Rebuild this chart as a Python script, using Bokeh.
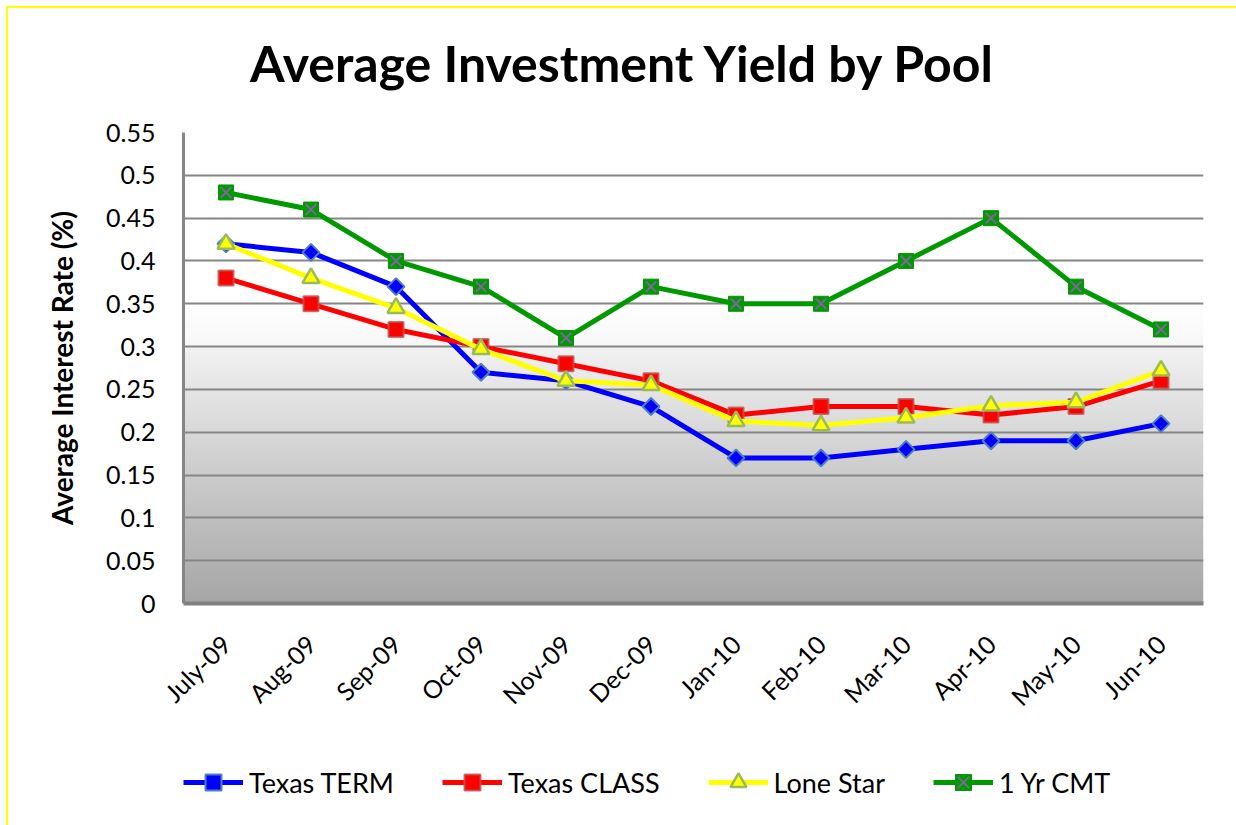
import numpy as np
from math import pi
from bokeh.plotting import figure
from bokeh.layouts import column
from bokeh.models import (Range1d, FixedTicker, CustomJSTickFormatter, Legend, LegendItem, Div)
from bokeh.embed import file_html
from bokeh.resources import INLINE

title_text = "Average Investment Yield by Pool"
months = ["July-09", "Aug-09", "Sep-09", "Oct-09", "Nov-09", "Dec-09",
          "Jan-10", "Feb-10", "Mar-10", "Apr-10", "May-10", "Jun-10"]
texas_term = [0.42, 0.41, 0.37, 0.27, 0.26, 0.23, 0.17, 0.17, 0.18, 0.19, 0.19, 0.21]
texas_class = [0.38, 0.35, 0.32, 0.30, 0.28, 0.26, 0.22, 0.23, 0.23, 0.22, 0.23, 0.26]
lone_star = [0.42, 0.38, 0.345, 0.297, 0.26, 0.255, 0.213, 0.208, 0.217, 0.231, 0.235, 0.272]
cmt_1yr = [0.48, 0.46, 0.40, 0.37, 0.31, 0.37, 0.35, 0.35, 0.40, 0.45, 0.37, 0.32]
y_ticks = [0, 0.05, 0.1, 0.15, 0.2, 0.25, 0.3, 0.35, 0.4, 0.45, 0.5, 0.55]

FONT = "Lato"
W = 1228
x = list(range(len(months)))
y_max = y_ticks[-1]

# ---- title strip
title_div = Div(
    text=('<div style="padding:30px 0 0 242px;margin:0;font-family:Lato;'
          'font-weight:bold;font-size:50px;line-height:50px;white-space:nowrap;'
          'color:#000000;">' + title_text + '</div>'),
    width=W, height=100, margin=0)

# ---- main chart
p = figure(width=W, height=620, output_backend="svg", toolbar_location=None,
           x_range=Range1d(-0.5, len(months) - 0.5), y_range=Range1d(0, y_max),
           min_border_left=175, min_border_right=33, min_border_top=24,
           min_border_bottom=125)
p.outline_line_color = None
p.background_fill_color = "white"
p.border_fill_color = "white"

n = 550
ys = (np.arange(n) + 0.5) / n * y_max
vals = np.where(ys >= 0.35, 255.0,
                np.where(ys >= 0.30, 247 + (255 - 247) * (ys - 0.30) / 0.05,
                         166 + (242 - 166) * ys / 0.30))
v = vals.astype(np.uint32)
img = (255 << 24) | (v << 16) | (v << 8) | v
img = img.reshape(n, 1).astype(np.uint32)
p.image_rgba(image=[img], x=-0.5, y=0, dw=len(months), dh=y_max, level="image")

p.xgrid.visible = False
p.ygrid.ticker = FixedTicker(ticks=y_ticks)
p.ygrid.grid_line_color = "#868686"
p.ygrid.grid_line_width = 2

p.yaxis.ticker = FixedTicker(ticks=y_ticks)
p.yaxis.formatter = CustomJSTickFormatter(
    code="return tick.toFixed(2).replace(/0+$/, '').replace(/\\.$/, '');")
p.yaxis.axis_label = "Average Interest Rate (%)"
p.yaxis.axis_label_text_font = FONT
p.yaxis.axis_label_text_font_size = "28px"
p.yaxis.axis_label_text_font_style = "bold"
p.yaxis.axis_label_text_color = "black"
p.yaxis.axis_label_standoff = 24
p.yaxis.major_label_standoff = 22
p.yaxis.axis_line_color = "#868686"
p.yaxis.axis_line_width = 3

p.xaxis.ticker = FixedTicker(ticks=x)
p.xaxis.major_label_overrides = {i: m for i, m in enumerate(months)}
p.xaxis.major_label_orientation = pi / 4
p.xaxis.major_label_standoff = 30
p.xaxis.axis_line_color = "#808080"
p.xaxis.axis_line_width = 4

for ax in (p.xaxis[0], p.yaxis[0]):
    ax.major_tick_line_color = None
    ax.minor_tick_line_color = None
    ax.major_label_text_font = FONT
    ax.major_label_text_color = "black"
p.yaxis.major_label_text_font_size = "25px"
p.xaxis.major_label_text_font_size = "25px"

series = [
    ("Texas TERM", texas_term, "#0000ff",
     dict(marker="square", angle=pi / 4, size=12, fill_color="#0000ff",
          line_color="#4f81bd", line_width=2)),
    ("Texas CLASS", texas_class, "#ff0000",
     dict(marker="square", size=15, fill_color="#ff0000", line_color="#c0504d",
          line_alpha=0.8, line_width=2)),
    ("Lone Star", lone_star, "#ffff00",
     dict(marker="triangle", size=17, fill_color="#ffff00", line_color="#9bbb59",
          line_width=2.5)),
    ("1 Yr CMT", cmt_1yr, "#009900",
     dict(marker="square", size=15, fill_color="#009900", line_color="#009900",
          line_width=1)),
]
cross = dict(marker="x", size=15, line_color="#8064a2", line_width=2)

# ---- legend strip (legend proxies hold a single NaN point: nothing is drawn)
p2 = figure(width=W, height=95, output_backend="svg", toolbar_location=None,
            x_range=Range1d(0, 1), y_range=Range1d(0, 1), min_border=0,
            min_border_left=0, min_border_right=0, min_border_top=0,
            min_border_bottom=0, x_axis_location=None, y_axis_location=None)
p2.grid.visible = False
p2.outline_line_color = None
p2.background_fill_color = "white"
p2.border_fill_color = "white"

nan = [float("nan")]
items = []
for name, vals_, col, mk in series:
    p.line(x, vals_, line_color=col, line_width=5)
    p.scatter(x, vals_, **mk)
    if name == "1 Yr CMT":
        p.scatter(x, vals_, **cross)
    rl = p2.line(nan, nan, line_color=col, line_width=5)
    rm = p2.scatter(nan, nan, **mk)
    rends = [rl, rm]
    if name == "1 Yr CMT":
        rends.append(p2.scatter(nan, nan, **cross))
    items.append(LegendItem(label=name, renderers=rends))

legend = Legend(items=items, orientation="horizontal", location=(0, 21),
                glyph_width=60, glyph_height=40, label_text_font=FONT,
                label_text_font_size="27px", label_text_color="black",
                label_standoff=6, spacing=48, padding=0, margin=0,
                border_line_color=None, background_fill_alpha=0)
p2.add_layout(legend)

layout = column(title_div, p, p2, spacing=0)

html = file_html(layout, INLINE)
page_css = "<style>html,body{margin:0 !important;} body{padding:8px 0 0 8px !important;}</style>"
frame_lines = ('<div style="position:absolute;left:6px;top:6px;width:1230px;height:2px;'
               'background:#ffff00;z-index:10"></div>'
               '<div style="position:absolute;left:6px;top:6px;width:2px;height:819px;'
               'background:#ffff00;z-index:10"></div>')
html = html.replace("</head>", page_css + "</head>", 1)
html = html.replace("</body>", frame_lines + "</body>", 1)
open("out.html", "w").write(html)
